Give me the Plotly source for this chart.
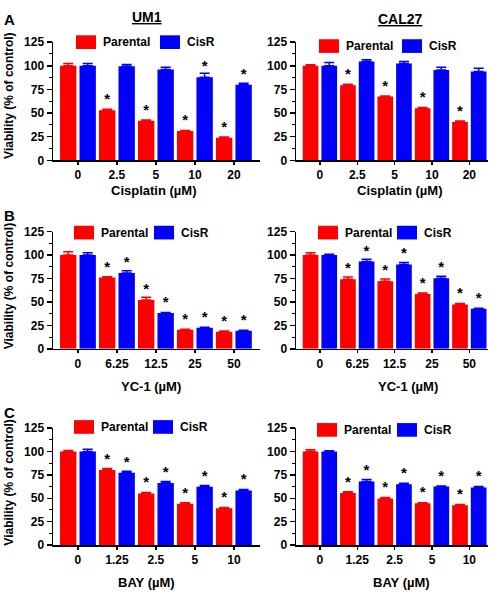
import plotly.graph_objects as go

# ---------------- data ----------------
cats_cis = ["0", "2.5", "5", "10", "20"]
cats_yc1 = ["0", "6.25", "12.5", "25", "50"]
cats_bay = ["0", "1.25", "2.5", "5", "10"]

# Panel A - Cisplatin
um1_cis_par = [100, 53, 42, 31, 24]
um1_cis_par_err = [2.5, 1, 0.6, 0.6, 0.6]
um1_cis_par_sig = [0, 1, 1, 1, 1]
um1_cis_cisr = [100, 99.5, 96, 88, 80]
um1_cis_cisr_err = [2.5, 2, 2.5, 4, 1.5]
um1_cis_cisr_sig = [0, 0, 0, 1, 1]

cal_cis_par = [100, 79.5, 67.5, 55, 40.5]
cal_cis_par_err = [1, 1, 0.6, 0.8, 1]
cal_cis_par_sig = [0, 1, 1, 1, 1]
cal_cis_cisr = [100, 104.5, 102.5, 95.5, 94]
cal_cis_cisr_err = [3.5, 2, 2, 3, 3.5]
cal_cis_cisr_sig = [0, 0, 0, 0, 0]

# Panel B - YC-1
um1_yc1_par = [100, 76, 52, 20.3, 18.3]
um1_yc1_par_err = [3.5, 1, 3, 0.6, 0.6]
um1_yc1_par_sig = [0, 1, 1, 1, 1]
um1_yc1_cisr = [100, 81, 38.2, 22.4, 19.3]
um1_yc1_cisr_err = [2.5, 2.4, 0.6, 0.6, 0.6]
um1_yc1_cisr_sig = [0, 1, 1, 1, 1]

cal_yc1_par = [100, 74.2, 72.1, 58.5, 47.3]
cal_yc1_par_err = [2.5, 2.5, 2.5, 1, 1]
cal_yc1_par_sig = [0, 1, 1, 1, 1]
cal_yc1_cisr = [100, 93.1, 90, 75.3, 42.7]
cal_yc1_cisr_err = [1, 2.5, 2, 2, 0.7]
cal_yc1_cisr_sig = [0, 1, 1, 1, 1]

# Panel C - BAY
um1_bay_par = [100, 80.1, 55.2, 44.2, 39.4]
um1_bay_par_err = [1, 1.7, 1, 1, 0.7]
um1_bay_par_sig = [0, 1, 1, 1, 1]
um1_bay_cisr = [100, 77.3, 66.3, 62.2, 58.4]
um1_bay_cisr_err = [2.4, 1.4, 1.7, 1.4, 1]
um1_bay_cisr_sig = [0, 1, 1, 1, 1]

cal_bay_par = [100, 55.6, 49.8, 44.6, 42.6]
cal_bay_par_err = [1.7, 1.4, 1, 0.7, 0.7]
cal_bay_par_sig = [0, 1, 1, 1, 1]
cal_bay_cisr = [100, 68, 64.9, 62.5, 61.5]
cal_bay_cisr_err = [0.7, 2, 1, 0.7, 1]
cal_bay_cisr_sig = [0, 1, 1, 1, 1]

y_ticks = [0, 25, 50, 75, 100, 125]
series_names = ["Parental", "CisR"]
cell_lines = ["UM1", "CAL27"]
x_titles = ["Cisplatin (µM)", "YC-1 (µM)", "BAY (µM)"]
panel_letters = ["A", "B", "C"]
y_title = "Viability (% of control)"

# ---------------- layout helpers ----------------
W, H = 497, 600
RED = "#FF0000"
BLUE = "#0000FF"
FONT = "Liberation Sans"


def pxx(p):
    return p / W


def pxy(p):
    return 1 - p / H


col_px = [(53, 260), (296, 488)]
col_range = [[-0.64, 4.67], [-0.64, 4.5]]
row_px = [(36, 157), (230, 350), (431, 551)]

panels = [
    (cats_cis, um1_cis_par, um1_cis_par_err, um1_cis_par_sig, um1_cis_cisr, um1_cis_cisr_err, um1_cis_cisr_sig),
    (cats_cis, cal_cis_par, cal_cis_par_err, cal_cis_par_sig, cal_cis_cisr, cal_cis_cisr_err, cal_cis_cisr_sig),
    (cats_yc1, um1_yc1_par, um1_yc1_par_err, um1_yc1_par_sig, um1_yc1_cisr, um1_yc1_cisr_err, um1_yc1_cisr_sig),
    (cats_yc1, cal_yc1_par, cal_yc1_par_err, cal_yc1_par_sig, cal_yc1_cisr, cal_yc1_cisr_err, cal_yc1_cisr_sig),
    (cats_bay, um1_bay_par, um1_bay_par_err, um1_bay_par_sig, um1_bay_cisr, um1_bay_cisr_err, um1_bay_cisr_sig),
    (cats_bay, cal_bay_par, cal_bay_par_err, cal_bay_par_sig, cal_bay_cisr, cal_bay_cisr_err, cal_bay_cisr_sig),
]

fig = go.Figure()
layout = dict(
    width=W, height=H,
    margin=dict(l=0, r=0, t=0, b=0),
    paper_bgcolor="white", plot_bgcolor="white",
    barmode="group", bargap=0.0, bargroupgap=0.16,
    showlegend=False,
    font=dict(family=FONT, size=12, color="black", weight="bold"),
)
annotations = []
shapes = []

for i, (cats, par, par_e, par_s, cr, cr_e, cr_s) in enumerate(panels):
    r, c = divmod(i, 2)
    n = i + 1
    xa = "x" if n == 1 else f"x{n}"
    ya = "y" if n == 1 else f"y{n}"
    for vals, errs, sig, color, name in [(par, par_e, par_s, RED, series_names[0]),
                                          (cr, cr_e, cr_s, BLUE, series_names[1])]:
        fig.add_trace(go.Bar(
            x=cats, y=vals, name=name, marker=dict(color=color, line=dict(width=0)),
            error_y=dict(type="data", array=errs, arrayminus=[0] * len(errs), symmetric=False,
                         color=color, thickness=1.5, width=5),
            text=["*" if s else "" for s in sig], textposition="outside",
            textfont=dict(size=15, color="black", family=FONT, weight="bold"),
            cliponaxis=False, xaxis=xa, yaxis=ya, hoverinfo="skip",
        ))
    x0, x1 = col_px[c]
    yt, yb = row_px[r]
    layout["xaxis" if n == 1 else f"xaxis{n}"] = dict(
        domain=[pxx(x0), pxx(x1)], anchor=ya, type="category", range=col_range[c],
        showline=True, linecolor="black", linewidth=1.5, ticks="outside", ticklen=3,
        tickwidth=1.5, tickcolor="black", showgrid=False, zeroline=False,
        tickfont=dict(size=12, family=FONT, weight="bold"), fixedrange=True,
    )
    layout["yaxis" if n == 1 else f"yaxis{n}"] = dict(
        domain=[pxy(yb), pxy(yt)], anchor=xa, range=[0, 125], tickvals=y_ticks,
        showline=True, linecolor="black", linewidth=1.5, ticks="outside", ticklen=5,
        tickwidth=1.5, tickcolor="black", showgrid=False, zeroline=False,
        tickfont=dict(size=12, family=FONT, weight="bold"), fixedrange=True,
        minor=dict(ticks="outside", ticklen=3, tickwidth=1, tickcolor="black", dtick=12.5, tick0=0),
    )

# legends (drawn as swatches + text), per panel, px positions
legend_px = [
    (76, 36), (319, 40),
    (74, 231), (318, 231),
    (74, 430), (317, 433),
]
legend_blue_dx = [84, 83, 80, 79, 79, 80]
for i, (lx, ly) in enumerate(legend_px):
    for k, (color, name) in enumerate([(RED, series_names[0]), (BLUE, series_names[1])]):
        sx = lx + (legend_blue_dx[i] if k else 0)
        shapes.append(dict(type="rect", xref="paper", yref="paper",
                           x0=pxx(sx), x1=pxx(sx + 20), y0=pxy(ly + 7), y1=pxy(ly - 7),
                           fillcolor=color, line=dict(width=0)))
        annotations.append(dict(xref="paper", yref="paper", x=pxx(sx + 25), y=pxy(ly),
                                text=name, showarrow=False, xanchor="left", yanchor="middle",
                                font=dict(size=12, family=FONT, weight="bold")))

# cell line titles
for (tx, ty), t in zip([(147, 10), (400, 12)], cell_lines):
    annotations.append(dict(xref="paper", yref="paper", x=pxx(tx), y=pxy(ty), text=f"<u>{t}</u>",
                            showarrow=False, xanchor="center", yanchor="middle",
                            font=dict(size=14, family=FONT, weight="bold")))

# panel letters
for (lx, ly), t in zip([(9, 13), (9, 213), (9, 415)], panel_letters):
    annotations.append(dict(xref="paper", yref="paper", x=pxx(lx), y=pxy(ly), text=t,
                            showarrow=False, xanchor="center", yanchor="middle",
                            font=dict(size=15, family=FONT, weight="bold")))

# x titles
x_title_px = [[(153, 188), (399, 188)], [(151, 389), (408, 389)], [(146, 589), (401, 589)]]
for r in range(3):
    for c in range(2):
        tx, ty = x_title_px[r][c]
        annotations.append(dict(xref="paper", yref="paper", x=pxx(tx), y=pxy(ty), text=x_titles[r],
                                showarrow=False, xanchor="center", yanchor="middle",
                                font=dict(size=13, family=FONT, weight="bold")))

# y titles
for ty in [91, 286, 487]:
    annotations.append(dict(xref="paper", yref="paper", x=pxx(9), y=pxy(ty), text=y_title,
                            showarrow=False, xanchor="center", yanchor="middle", textangle=-90,
                            font=dict(size=12, family=FONT, weight="bold")))

layout["annotations"] = annotations
layout["shapes"] = shapes
fig.update_layout(**layout)
fig.write_html(
    "out.html",
    config={"displayModeBar": False, "staticPlot": True},
    post_script="document.body.style.margin='0';document.body.style.padding='0';"
                "document.body.style.overflow='hidden';",
)
